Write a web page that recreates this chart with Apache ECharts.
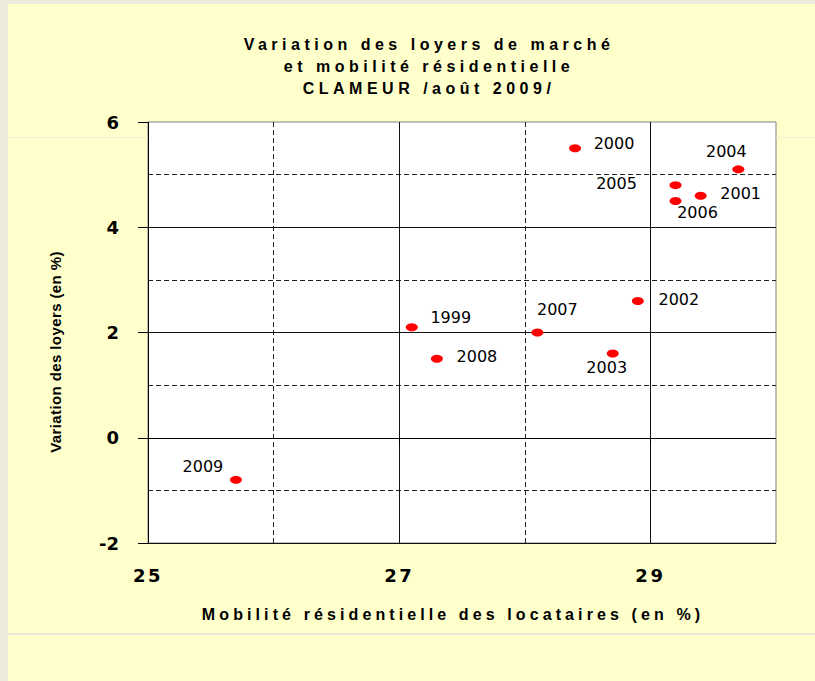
<!DOCTYPE html>
<html>
<head>
<meta charset="utf-8">
<title>Variation des loyers de marché et mobilité résidentielle</title>
<script src="https://cdn.jsdelivr.net/npm/echarts@6.0.0/dist/echarts.min.js"></script>
<style>
  html, body { margin: 0; padding: 0; background: #FFFFCC; }
  #chart { width: 815px; height: 681px; }
  /* the Excel original draws its bold texts with wide letter spacing */
  #chart text[style*="Arimo"] { letter-spacing: 4.5px; }
  #chart text[style*="Helvetica"] { letter-spacing: 4.1px; }
  #chart text[style*="Arial"] { letter-spacing: 0.4px; }
  #chart text[style*="Verdana"] { letter-spacing: 2.5px; }
  /* keep grid lines sharp */
  #chart path[fill="none"] { shape-rendering: crispEdges; }
</style>
</head>
<body>
<div id="chart"></div>
<script>
// data
const years = ["1999", "2000", "2001", "2002", "2003", "2004", "2005", "2006", "2007", "2008", "2009"];
const mobility = [27.1, 28.4, 29.4, 28.9, 28.7, 29.7, 29.2, 29.2, 28.1, 27.3, 25.7];
const rentChange = [2.1, 5.5, 4.6, 2.6, 1.6, 5.1, 4.8, 4.5, 2.0, 1.5, -0.8];
const xTickLabels = [25, 27, 29];

// where each year label sits around its point (px)
const labelOffsets = {
  "1999": [39, -10],
  "2000": [39, -5],
  "2001": [40, -2],
  "2002": [41, -1],
  "2003": [-6, 14],
  "2004": [-12, -18],
  "2005": [-59, -2],
  "2006": [22, 12],
  "2007": [20, -23],
  "2008": [40, -2],
  "2009": [-33, -13]
};

const FONT_TITLE = "Liberation Sans, Arimo";
const FONT_XNAME = "Liberation Sans, Helvetica";
const FONT_YNAME = "Liberation Sans, Arial";
const FONT_XLAB = "DejaVu Sans, Verdana";
const FONT_YLAB = "DejaVu Sans";

const chart = echarts.init(document.getElementById("chart"), null, { renderer: "svg" });

const points = years.map((y, i) => ({
  name: y,
  value: [mobility[i], rentChange[i]],
  label: { offset: labelOffsets[y] }
}));

const option = {
  animation: false,
  backgroundColor: "#FFFFCC",
  title: {
    text: "Variation des loyers de marché\net mobilité résidentielle\nCLAMEUR /août 2009/",
    left: 429,
    top: 33,
    padding: 0,
    textAlign: "center",
    textStyle: {
      fontFamily: FONT_TITLE,
      fontSize: 16,
      fontWeight: "bold",
      color: "#000",
      lineHeight: 22
    }
  },
  graphic: [
    { type: "rect", shape: { x: 0, y: 0, width: 8, height: 681 }, style: { fill: "#ECEADA" } },
    { type: "rect", shape: { x: 8, y: 0, width: 807, height: 4 }, style: { fill: "#ECEBDD" } },
    { type: "line", shape: { x1: 8, y1: 137.5, x2: 148, y2: 137.5 }, style: { stroke: "#EFEEDA", lineWidth: 1 } },
    { type: "line", shape: { x1: 776, y1: 137.5, x2: 815, y2: 137.5 }, style: { stroke: "#EFEEDA", lineWidth: 1 } },
    { type: "line", shape: { x1: 8, y1: 634, x2: 815, y2: 634 }, style: { stroke: "#E8E6D2", lineWidth: 2 } }
  ],
  grid: {
    left: 148,
    top: 122,
    right: 39,
    bottom: 138,
    show: true,
    backgroundColor: "#FFFFFF",
    borderColor: "#808080",
    borderWidth: 1
  },
  xAxis: [
    {
      // solid lines, ticks and labels at 25, 27, 29
      type: "value",
      min: 25,
      max: 30,
      interval: 1,
      name: "Mobilité résidentielle des locataires (en %)",
      nameLocation: "middle",
      nameGap: 63,
      nameTextStyle: {
        fontFamily: FONT_XNAME,
        fontSize: 16,
        fontWeight: "bold",
        color: "#000",
        padding: [0, 18, 0, 0]
      },
      axisLine: { show: true, lineStyle: { color: "#000", width: 1 } },
      axisTick: { show: true, length: 7, customValues: xTickLabels, lineStyle: { color: "#000" } },
      axisLabel: {
        customValues: xTickLabels,
        margin: 23,
        fontFamily: FONT_XLAB,
        fontSize: 18,
        fontWeight: "bold",
        color: "#000"
      },
      splitLine: {
        show: true,
        lineStyle: { color: "#111", width: 1 }
      }
    },
    {
      // dashed lines at 26, 28
      type: "value",
      min: 25,
      max: 30,
      interval: 1,
      position: "top",
      axisLine: { show: false },
      axisTick: { show: false },
      axisLabel: { show: false },
      splitLine: {
        show: true,
        showMaxLine: false,
        lineStyle: { color: ["rgba(0,0,0,0)", "#222"], width: 1, type: [5, 3] }
      }
    }
  ],
  yAxis: {
    type: "value",
    min: -2,
    max: 6,
    interval: 2,
    name: "Variation des loyers (en %)",
    nameLocation: "middle",
    nameRotate: 90,
    nameGap: 85,
    nameTextStyle: {
      fontFamily: FONT_YNAME,
      fontSize: 15,
      fontWeight: "bold",
      color: "#000",
      padding: [0, 39, 0, 0]
    },
    axisLine: { show: true, lineStyle: { color: "#000", width: 1 } },
    axisTick: { show: true, length: 10, lineStyle: { color: "#000" } },
    axisLabel: {
      margin: 29,
      fontFamily: FONT_YLAB,
      fontSize: 18,
      fontWeight: "bold",
      color: "#000"
    },
    splitLine: {
      show: true,
      showMaxLine: false,
      lineStyle: { color: "#111", width: 1 }
    },
    minorTick: { show: false, splitNumber: 2 },
    minorSplitLine: {
      show: true,
      lineStyle: { color: "#222", width: 1, type: [5, 3] }
    }
  },
  series: [
    {
      type: "scatter",
      xAxisIndex: 0,
      symbol: "circle",
      symbolSize: [12, 8],
      itemStyle: { color: "#FF0000", opacity: 1 },
      label: {
        show: true,
        position: "inside",
        formatter: "{b}",
        fontFamily: "DejaVu Sans",
        fontSize: 16,
        color: "#000"
      },
      emphasis: { disabled: true },
      data: points
    }
  ]
};

chart.setOption(option);
</script>
</body>
</html>
